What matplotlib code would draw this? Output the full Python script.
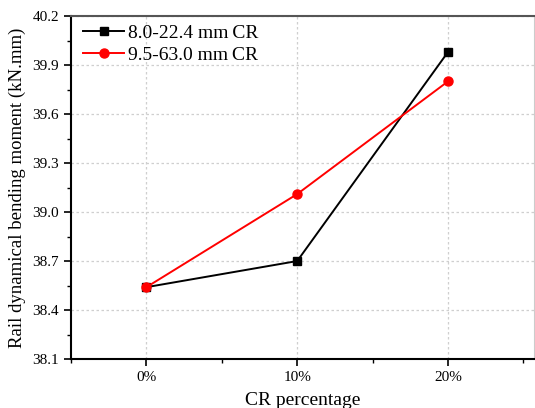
import numpy as np
import matplotlib
matplotlib.use("Agg")
from matplotlib import pyplot as plt
from matplotlib.ticker import MultipleLocator

plt.rcParams['font.family'] = ['Liberation Serif', 'DejaVu Serif']

categories = ['0%', '10%', '20%']
small_cr = [38.54, 38.70, 39.98]    # 8.0-22.4 mm CR
large_cr = [38.54, 39.11, 39.80]    # 9.5-63.0 mm CR

fig = plt.figure(figsize=(5.35, 4.08), dpi=100)
ax = fig.add_axes([0.1327, 0.120, 0.8654, 0.8407])

x = np.arange(len(categories))
ax.plot(x, small_cr, color='black', marker='s', markersize=6, lw=1.4,
        label='8.0-22.4 mm\u2009CR', zorder=3)
ax.plot(x, large_cr, color='red', marker='o', markersize=6.5, lw=1.4,
        label='9.5-63.0 mm\u2009CR', zorder=4)

ax.set_xlim(-0.5, 2.57)
ax.set_ylim(38.1, 40.2)
ax.set_xticks(x)
ax.set_xticklabels(categories)
ax.xaxis.set_minor_locator(MultipleLocator(0.5))
ax.yaxis.set_major_locator(MultipleLocator(0.3))
ax.yaxis.set_minor_locator(MultipleLocator(0.15))
ax.yaxis.set_major_formatter(matplotlib.ticker.FormatStrFormatter('%.1f'))

ax.tick_params(which='major', direction='out', length=5, width=1.2, labelsize=11)
ax.tick_params(which='minor', direction='out', length=3, width=1.0)
ax.grid(True, which='major', linestyle=(0, (2, 2)), color='#cfcfcf', lw=0.9)

for s in ['left', 'bottom']:
    ax.spines[s].set_linewidth(1.5)
ax.spines['top'].set_linewidth(1.5)
ax.spines['top'].set_color('#555555')
ax.spines['right'].set_color('#cccccc')
ax.spines['right'].set_linewidth(0.8)

ax.set_xlabel('CR percentage', fontsize=14, labelpad=6)
ax.set_ylabel('Rail dynamical bending moment (kN.mm)', fontsize=13.5, labelpad=5)

ax.legend(loc='upper left', bbox_to_anchor=(0.01, 0.998), frameon=False,
          fontsize=14, handlelength=2.1, handletextpad=0.2, labelspacing=0.2,
          borderaxespad=0.0)

fig.savefig('out.png', dpi=100)
